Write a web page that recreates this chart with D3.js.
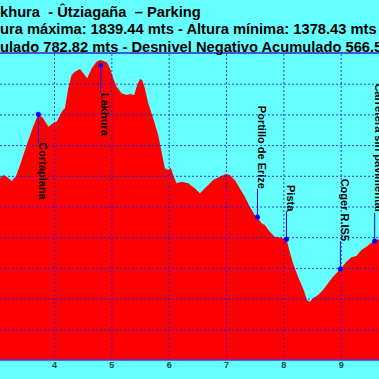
<!DOCTYPE html>
<html><head><meta charset="utf-8">
<script src="https://cdn.jsdelivr.net/npm/d3@7/dist/d3.min.js"></script>
<style>html,body{margin:0;padding:0;background:#66ffff;overflow:hidden}svg{display:block}</style>
</head><body><svg id="c" width="379" height="379"></svg>
<script>
// Profile data (km, metres)
const distKm = [2.972,3.059,3.117,3.181,3.263,3.338,3.408,3.524,3.634,3.726,3.808,3.901,3.988,4.047,4.134,4.192,4.249,4.308,4.366,4.453,4.510,4.580,4.657,4.744,4.801,4.859,4.918,4.976,5.033,5.092,5.179,5.267,5.324,5.399,5.441,5.498,5.538,5.585,5.643,5.730,5.817,5.876,5.934,5.991,6.038,6.078,6.138,6.225,6.340,6.456,6.544,6.601,6.688,6.775,6.892,6.997,7.066,7.153,7.240,7.328,7.415,7.502,7.549,7.618,7.676,7.763,7.850,7.937,7.995,8.054,8.111,8.169,8.256,8.343,8.413,8.460,8.517,8.605,8.692,8.779,8.866,8.995,9.099,9.186,9.274,9.361,9.448,9.535,9.592,9.662,9.766];
const elevM = [1650,1646.4,1651.3,1648,1641.5,1649.7,1667.6,1700.2,1729.5,1750.2,1744.1,1730,1736,1738.1,1754.4,1760.4,1793,1814.2,1819.5,1824,1817,1808.8,1825.1,1835.8,1838.6,1837,1834.9,1825.1,1808.8,1795.1,1784.4,1781.6,1783.2,1781.6,1795.1,1807.7,1806,1792.5,1768.1,1743.6,1716.4,1689.3,1662.2,1659.4,1663.2,1651.3,1637.8,1640.4,1637.8,1629.6,1621.5,1626.9,1635,1643.2,1648.5,1652.9,1651.3,1643.2,1629.6,1616,1599.7,1586.2,1582.4,1572.6,1569.9,1559,1550.8,1549.8,1548.2,1546.6,1526.4,1507.5,1485.7,1466.8,1447.7,1445,1450.5,1455.9,1464,1475,1485.7,1498.2,1510.1,1517.3,1519.4,1529.2,1534.5,1541,1543.8,1546.6,1548.7];

// Waypoints
const wpNames = ["Cortaplana","Lakhura","Portillo de Erize","Pista","Coger R.IS5","Carretera sin pavimentar"];
const wpKm    = [3.726,4.814,7.549,8.054,8.995,9.592];
const wpElev  = [1750.2,1830.5,1582.9,1546.6,1498.2,1543.8];
const wpSide  = ["below","below","above","above","above","above"];

// Axes
const xTicks = [4,5,6,7,8,9];
const yGridVals = [1400,1450,1500,1550,1600,1650,1700,1750,1800];

// Titles
const titleLines = [
  "Lakhura  - Ûtziagaña  – Parking",
  "Altura máxima: 1839.44 mts - Altura mínima: 1378.43 mts",
  "Desnivel Positivo Acumulado 782.82 mts - Desnivel Negativo Acumulado 566.59 mts"
];

const W = 379, H = 379;
const svg = d3.select("#c");
svg.append("rect").attr("width",W).attr("height",H).attr("fill","#66ffff");

const x = d3.scaleLinear().domain([4,9]).range([54,340.7]);
const y = d3.scaleLinear().domain([1350,1850]).range([360,53]);

const data = distKm.map((k,i)=>({km:k, m:elevM[i]}));

svg.append("defs").append("clipPath").attr("id","pc")
  .append("rect").attr("x",0).attr("y",53).attr("width",W).attr("height",307);

const plot = svg.append("g").attr("clip-path","url(#pc)");

plot.append("path").datum(data)
  .attr("fill","#ff0000")
  .attr("d", d3.area().x(d=>x(d.km)).y0(y(1350)).y1(d=>y(d.m)));

// grid via axes
const gx = plot.append("g").attr("transform",`translate(0,${y(1350)})`)
  .call(d3.axisBottom(x).tickValues(xTicks).tickSize(-(y(1350)-y(1850))).tickFormat(""));
gx.select(".domain").remove();
gx.selectAll("line").attr("stroke","#1a1aff").attr("stroke-dasharray","2,2").attr("stroke-opacity",0.85);

const gy = plot.append("g").attr("transform",`translate(0,0)`)
  .call(d3.axisLeft(y).tickValues(yGridVals).tickSize(-W).tickFormat(""));
gy.select(".domain").remove();
gy.selectAll("line").attr("stroke","#1a1aff").attr("stroke-dasharray","2,2").attr("stroke-opacity",0.85);

// frame lines
svg.append("line").attr("x1",0).attr("x2",W).attr("y1",y(1850)).attr("y2",y(1850))
  .attr("stroke","#3a5ad8").attr("stroke-width",2);
svg.append("line").attr("x1",0).attr("x2",W).attr("y1",y(1350)).attr("y2",y(1350))
  .attr("stroke","#4a3ad0").attr("stroke-width",1.5);

// x tick labels
const ax = svg.append("g").attr("transform",`translate(0,${y(1350)})`)
  .call(d3.axisBottom(x).tickValues(xTicks).tickSize(0).tickPadding(2).tickFormat(d3.format("d")));
ax.select(".domain").remove();
ax.selectAll("text").attr("font-family","Liberation Sans, Arial, sans-serif")
  .attr("font-size","9px").attr("font-weight","bold").attr("fill","#184848");

// waypoints
const gap = 28;
wpNames.forEach((name,i)=>{
  const px = x(wpKm[i]), py = y(wpElev[i]);
  const below = wpSide[i]==="below";
  const ty = below ? py+gap : py-gap;
  svg.append("line").attr("x1",px).attr("x2",px).attr("y1",py).attr("y2",ty)
    .attr("stroke","#0000ff").attr("stroke-width",1);
  svg.append("text").attr("transform",`translate(${px+0.5},${ty}) rotate(90)`)
    .attr("text-anchor", below ? "start":"end")
    .attr("font-family","Liberation Sans, Arial, sans-serif")
    .attr("font-size","11px").attr("font-weight","bold").attr("fill","#000")
    .text(name);
  svg.append("circle").attr("cx",px).attr("cy",py).attr("r",2.5).attr("fill","#0000ff");
});

// titles
const tFont = {family:"Liberation Sans, Arial, sans-serif", size:"14.7px"};
const baselines = [17,34,51.5];
function titleAt(line, yb, startToken, startX){
  const t = svg.append("text").attr("y",yb).attr("x",0).attr("text-anchor","start")
    .style("white-space","pre").attr("font-family",tFont.family).attr("font-size",tFont.size)
    .attr("font-weight","bold").attr("fill","#000").text(line);
  const idx = line.indexOf(startToken);
  const off = idx > 0 ? t.node().getSubStringLength(0, idx) : 0;
  t.attr("x", startX - off);
  return t;
}
titleAt(titleLines[0], baselines[0], "khura", 0);
titleAt(titleLines[1], baselines[1], "ura m", 0);
titleAt(titleLines[2], baselines[2], "ulado", 0);
</script></body></html>
